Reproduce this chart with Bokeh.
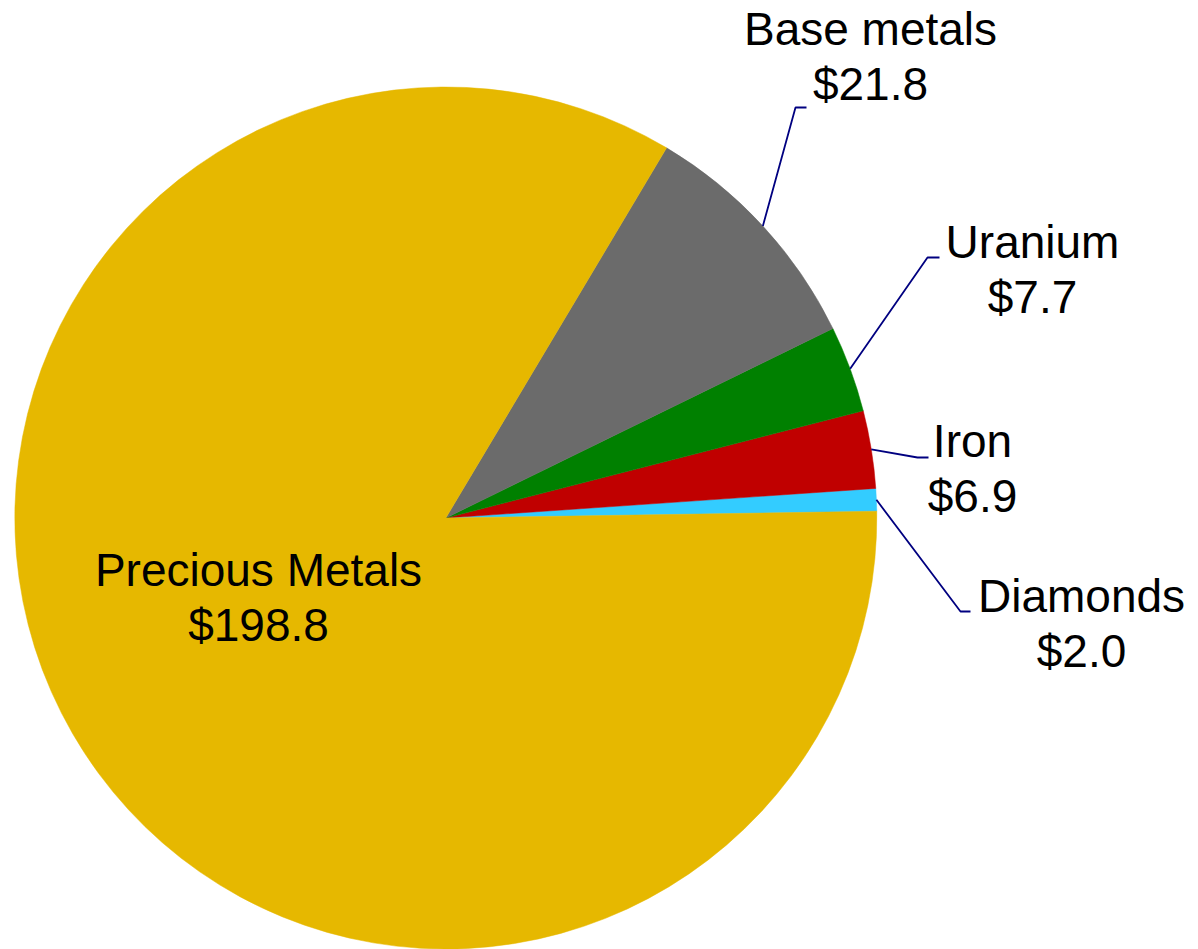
import math
from bokeh.plotting import figure
from bokeh.models import Range1d, ColumnDataSource
from bokeh.core.properties import value
from bokeh.embed import file_html
from bokeh.resources import INLINE

# ---- data ----
categories = ["Diamonds", "Iron", "Uranium", "Base metals", "Precious Metals"]
values = [2.0, 6.9, 7.7, 21.8, 198.8]
colors = ["#33CCFF", "#C00000", "#008000", "#6B6B6B", "#E6B800"]
value_labels = ["$2.0", "$6.9", "$7.7", "$21.8", "$198.8"]

# ---- layout (screen-like coordinates, y measured up from bottom) ----
W, H = 1198, 949
SCREEN_H = 949
def sy(y):
    return SCREEN_H - y

cx, cy, R = 445.3, sy(517.5), 431
start_offset = math.radians(0.9)

total = sum(values)
starts, ends, mids = [], [], []
acc = start_offset
for v in values:
    a = v / total * 2 * math.pi
    starts.append(acc)
    ends.append(acc + a)
    mids.append(acc + a / 2)
    acc += a

p = figure(width=W, height=H, output_backend="svg", toolbar_location=None,
           x_range=Range1d(0, W), y_range=Range1d(0, H),
           min_border=0, outline_line_color=None)
p.axis.visible = False
p.grid.visible = False
p.background_fill_color = "white"
p.border_fill_color = "white"

src = ColumnDataSource(dict(cat=categories, val=values, color=colors,
                            start=starts, end=ends))
p.wedge(x=cx, y=cy, radius=R, start_angle="start", end_angle="end",
        fill_color="color", line_color="color", line_width=0.5, source=src,
        direction="anticlock")

# label positions (centre x, baseline of first line in screen px)
TEXT_SHIFT = 17
label_pos = {
    "Diamonds": (1081, 612),
    "Iron": (972, 457),
    "Uranium": (1032, 258),
    "Base metals": (870, 45),
    "Precious Metals": (258, 586),
}
# leader elbows and ends (screen px)
leaders = {
    "Diamonds": ((960, 611), (970, 611)),
    "Iron": ((917, 457), (928, 457)),
    "Uranium": ((927, 257), (939, 257)),
    "Base metals": ((795, 107), (806, 107)),
}

xs, ys = [], []
for i, c in enumerate(categories):
    if c in leaders:
        m = mids[i]
        x0 = cx + R * math.cos(m)
        y0 = cy + R * math.sin(m)
        (ex, ey), (fx, fy) = leaders[c]
        xs.append([x0, ex, fx])
        ys.append([y0, sy(ey), sy(fy)])
p.multi_line(xs=xs, ys=ys, line_color="#000080", line_width=1.8)

LINE = 55
tx = [label_pos[c][0] for c in categories]
ty1 = [sy(label_pos[c][1] - TEXT_SHIFT) for c in categories]
ty2 = [sy(label_pos[c][1] - TEXT_SHIFT + LINE) for c in categories]
p.text(x=tx, y=ty1, text=categories, text_font=value("Liberation Sans"),
       text_font_size="46px", text_align="center", text_baseline="alphabetic",
       text_color="black")
p.text(x=tx, y=ty2, text=value_labels, text_font=value("Liberation Sans"),
       text_font_size="46px", text_align="center", text_baseline="alphabetic",
       text_color="black")

open("out.html", "w").write(file_html(p, INLINE))
